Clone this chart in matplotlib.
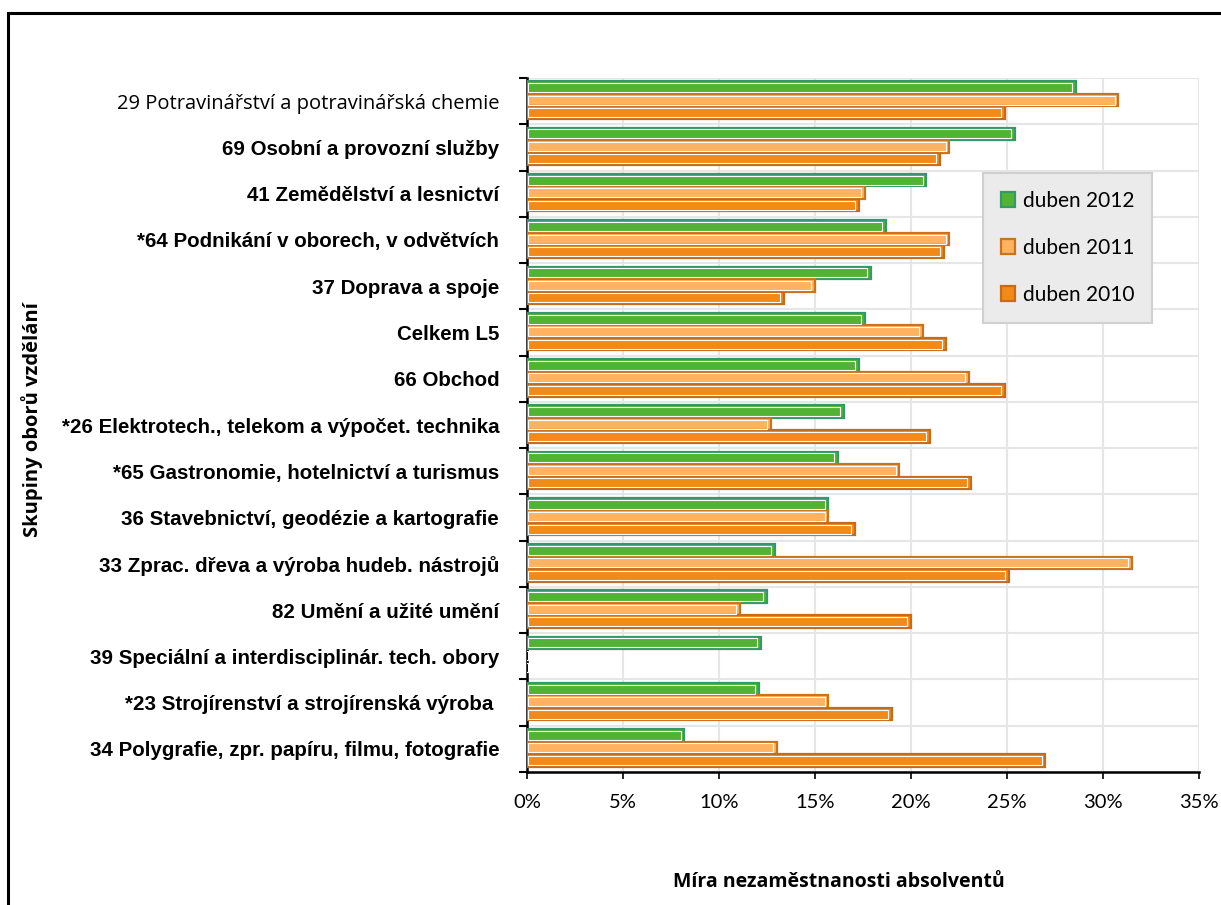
import matplotlib
matplotlib.use('Agg')
import matplotlib.pyplot as plt
from matplotlib.patches import Rectangle
import numpy as np

# categories from top to bottom
categories = [
    '29 Potravinářství a potravinářská chemie',
    '69 Osobní a provozní služby',
    '41 Zemědělství a lesnictví',
    '*64 Podnikání v oborech, v odvětvích',
    '37 Doprava a spoje',
    'Celkem L5',
    '66 Obchod',
    '*26 Elektrotech., telekom a výpočet. technika',
    '*65 Gastronomie, hotelnictví a turismus',
    '36 Stavebnictví, geodézie a kartografie',
    '33 Zprac. dřeva a výroba hudeb. nástrojů',
    '82 Umění a užité umění',
    '39 Speciální a interdisciplinár. tech. obory',
    '*23 Strojírenství a strojírenská výroba ',
    '34 Polygrafie, zpr. papíru, filmu, fotografie',
]

# unemployment rate in %
duben_2012 = [28.6, 25.4, 20.8, 18.7, 17.9, 17.6, 17.3, 16.5, 16.2, 15.7, 12.9, 12.5, 12.2, 12.1, 8.2]
duben_2011 = [30.8, 22.0, 17.6, 22.0, 15.0, 20.6, 23.0, 12.7, 19.4, 15.7, 31.5, 11.1, np.nan, 15.7, 13.0]
duben_2010 = [24.9, 21.5, 17.3, 21.7, 13.4, 21.8, 24.9, 21.0, 23.1, 17.1, 25.1, 20.0, np.nan, 19.0, 27.0]

series = [
    ('duben 2012', duben_2012, '#52b233', '#34996a'),
    ('duben 2011', duben_2011, '#ffb25f', '#c9721f'),
    ('duben 2010', duben_2010, '#f28a1a', '#c46c1c'),
]

fig = plt.figure(figsize=(12.21, 9.05), dpi=100)
ax = fig.add_axes([527 / 1221, 1 - 772 / 905, 672 / 1221, 694 / 905])

n = len(categories)
y = np.arange(n)
bh = 0.27
offsets = [-bh, 0, bh]

for (name, vals, fc, ec), off in zip(series, offsets):
    ax.barh(y + off - 0.02, vals, height=bh, color=fc, edgecolor=ec,
            linewidth=1.6, label=name, zorder=3)
    # white inner highlight like the original
    v = np.nan_to_num(np.array(vals, dtype=float))
    ax.barh(y + off - 0.02, v - 0.25, height=bh * 0.72, left=0.05, color='none',
            edgecolor='white', linewidth=0.8, zorder=4)

ax.set_xlim(0, 35)
ax.set_ylim(n - 0.5, -0.5)

ax.set_xticks(np.arange(0, 36, 5))
ax.set_xticklabels([f'{v}%' for v in range(0, 36, 5)], fontsize=14.5, family=['Lato', 'DejaVu Sans'])
ax.tick_params(axis='x', length=5, width=1.2, pad=11)

ax.set_yticks(np.arange(-0.5, n, 1))
ax.set_yticklabels([])
ax.tick_params(axis='y', which='major', length=6, width=1.5)
ax.set_yticks(y, minor=True)
ax.set_yticklabels(categories, minor=True)
ax.tick_params(axis='y', which='minor', length=0, pad=20)
for i, lab in enumerate(ax.get_yticklabels(minor=True)):
    if i == 0:
        lab.set_fontweight('normal')
        lab.set_fontsize(14.5)
        lab.set_family(['Open Sans', 'DejaVu Sans'])
    else:
        lab.set_family(['Liberation Sans', 'DejaVu Sans'])
        lab.set_fontweight('bold')
        lab.set_fontsize(14.8)

ax.grid(True, which='major', color='#e6e6e6', linewidth=1.5, zorder=0)
for s in ['top', 'right']:
    ax.spines[s].set_visible(False)
ax.spines['left'].set_linewidth(1.8)
ax.spines['bottom'].set_linewidth(1.8)

fig.text(839 / 1221, 1 - 882 / 905, 'Míra nezaměstnanosti absolventů', ha='center', va='center',
         fontsize=14, fontweight='bold', family=['Open Sans', 'DejaVu Sans'])
fig.text(32 / 1221, 1 - 420 / 905, 'Skupiny oborů vzdělání', rotation=90, ha='center', va='center',
         fontsize=14.5, fontweight='bold', family=['Open Sans', 'DejaVu Sans'])

leg = ax.legend(loc='upper left', bbox_to_anchor=((983 - 527) / 672, (772 - 173) / 694),
                prop={'family': ['Lato', 'DejaVu Sans'], 'size': 15}, handlelength=0.7,
                handleheight=0.7, labelspacing=1.3, borderpad=0.85, handletextpad=0.35,
                fancybox=False, frameon=True, borderaxespad=0)
leg.get_frame().set_facecolor('#ebebeb')
leg.get_frame().set_edgecolor('#d0d0d0')
leg.get_frame().set_linewidth(1.5)
leg.get_frame().set_alpha(1)

# outer chart frame (runs off the page on the right and bottom)
fig.patches.append(Rectangle((8 / 1221, -0.1), 1.2, 1.1 - 13 / 905, transform=fig.transFigure,
                             fill=False, edgecolor='black', linewidth=2.2))

fig.savefig('out.png', dpi=100)
